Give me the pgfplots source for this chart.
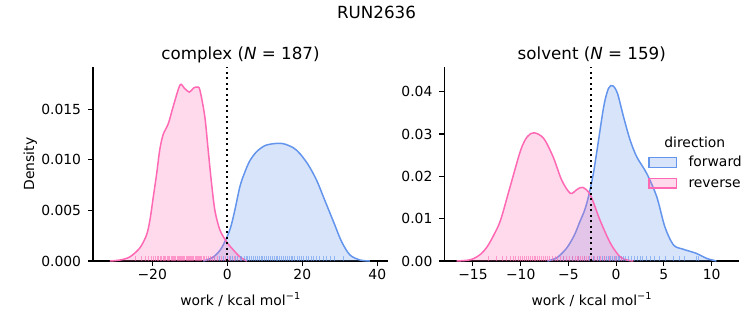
\documentclass[border=0pt]{standalone}
\usepackage{fontspec}
\setmainfont{DejaVu Sans}
\usepackage{pgfplots}
\usepackage{pgfplotstable}
\pgfplotsset{compat=1.18}
\definecolor{fwd}{RGB}{100,149,237}
\definecolor{rev}{RGB}{255,105,180}

\pgfplotstableread{
x y
-31.3 0
-28.6 0.0001
-26.0 0.0004
-23.3 0.0013
-21.5 0.0026
-20.6 0.0041
-19.7 0.0064
-18.8 0.0087
-18.0 0.0110
-17.1 0.0125
-15.7 0.0136
-14.4 0.0153
-12.6 0.0174
-11.5 0.0171
-10.1 0.0167
-9.0 0.0171
-8.0 0.0172
-7.3 0.0169
-6.0 0.0143
-5.1 0.0110
-4.2 0.0077
-3.3 0.0050
-2.0 0.0031
-0.2 0.0019
1.6 0.0011
3.4 0.0004
5.2 0
}\revLkde

\pgfplotstableread{
x y
-6.4 0
-3.7 0.0004
-1.5 0.0013
0.7 0.0031
2.0 0.0050
3.4 0.0074
4.7 0.0088
6.0 0.0099
7.8 0.0108
10.0 0.0114
12.4 0.0116
14.9 0.0116
17.6 0.0112
19.4 0.0106
21.6 0.0095
23.8 0.0080
26.0 0.0060
28.3 0.0039
30.5 0.0019
32.7 0.0006
35.4 0.0001
38.0 0
}\fwdLkde

\pgfplotstableread{
x y
-16.7 0
-15.5 0.0002
-14.9 0.0006
-14.2 0.0016
-13.5 0.0034
-12.8 0.0062
-12.1 0.0097
-11.1 0.0176
-10.0 0.0262
-9.3 0.0294
-8.6 0.0303
-7.6 0.0290
-6.6 0.0246
-5.7 0.0191
-4.8 0.0160
-4.1 0.0169
-3.5 0.0174
-2.7 0.0156
-1.7 0.0097
-0.6 0.0042
0.4 0.0010
1.2 0.0002
1.8 0
}\revRkde

\pgfplotstableread{
x y
-7.2 0
-6.2 0.0008
-5.2 0.0030
-4.4 0.0060
-3.8 0.0093
-3.3 0.0120
-2.9 0.0152
-2.4 0.0205
-2.0 0.0262
-1.3 0.0365
-0.8 0.0408
-0.35 0.0414
0.14 0.0396
0.77 0.0341
1.46 0.0286
2.16 0.0246
3.2 0.0207
4.25 0.0152
5.1 0.0081
6.0 0.0038
7.0 0.0028
8.4 0.0018
9.5 0.0006
10.5 0
}\fwdRkde

% rug tables: x position, h = rug tick height (relative)
\pgfplotstableread{
x h
-24.5 1
-23.0 1
-21.8 1
-21.0 1
-20.3 1
-19.8 1
-19.2 1
-18.7 1
-18.3 1
-17.9 1
-17.5 1
-17.1 1
-16.8 1
-16.4 1
-16.0 1
-15.7 1
-15.3 1
-15.0 1
-14.6 1
-14.3 1
-14.0 1
-13.7 1
-13.4 1
-13.1 1
-12.8 1
-12.5 1
-12.2 1
-11.9 1
-11.6 1
-11.3 1
-11.0 1
-10.7 1
-10.4 1
-10.1 1
-9.8 1
-9.5 1
-9.2 1
-8.9 1
-8.6 1
-8.3 1
-8.0 1
-7.7 1
-7.4 1
-7.1 1
-6.8 1
-6.4 1
-6.0 1
-5.6 1
-5.1 1
-4.6 1
-4.0 1
-3.3 1
-2.5 1
-1.6 1
-0.6 1
0.5 1
1.8 1
}\revLrug

\pgfplotstableread{
x h
-3.5 1
-2.2 1
-1.0 1
0.0 1
0.8 1
1.5 1
2.2 1
2.8 1
3.4 1
3.9 1
4.5 1
5.0 1
5.5 1
6.0 1
6.5 1
7.0 1
7.5 1
8.0 1
8.5 1
9.0 1
9.5 1
10.0 1
10.5 1
11.0 1
11.5 1
12.0 1
12.5 1
13.0 1
13.5 1
14.0 1
14.5 1
15.0 1
15.5 1
16.0 1
16.5 1
17.0 1
17.5 1
18.0 1
18.6 1
19.2 1
19.8 1
20.4 1
21.0 1
21.7 1
22.4 1
23.1 1
23.9 1
24.7 1
25.6 1
26.5 1
27.4 1
28.6 1
31.0 1
}\fwdLrug

\pgfplotstableread{
x h
-13.4 1
-12.5 1
-11.9 1
-11.5 1
-11.1 1
-10.8 1
-10.5 1
-10.2 1
-10.0 1
-9.8 1
-9.6 1
-9.4 1
-9.2 1
-9.0 1
-8.8 1
-8.6 1
-8.4 1
-8.2 1
-8.0 1
-7.8 1
-7.6 1
-7.4 1
-7.2 1
-7.0 1
-6.7 1
-6.4 1
-6.1 1
-5.8 1
-5.5 1
-5.2 1
-4.9 1
-4.6 1
-4.3 1
-4.1 1
-3.9 1
-3.7 1
-3.5 1
-3.3 1
-3.1 1
-2.9 1
-2.6 1
-2.3 1
-2.0 1
-1.6 1
-1.2 1
-0.7 1
-0.1 1
0.6 1
}\revRrug

\pgfplotstableread{
x h
-5.5 1
-4.6 1
-3.9 1
-3.3 1
-2.8 1
-2.4 1
-2.0 1
-1.7 1
-1.4 1
-1.2 1
-1.0 1
-0.8 1
-0.6 1
-0.4 1
-0.2 1
0.0 1
0.2 1
0.4 1
0.6 1
0.8 1
1.0 1
1.3 1
1.6 1
1.9 1
2.2 1
2.5 1
2.8 1
3.2 1
3.6 1
4.0 1
4.5 1
5.2 1
6.0 1
6.6 1
7.2 1
8.4 1
8.6 1
}\fwdRrug

\pgfplotsset{
  myax/.style={
    scale only axis, width=295pt, height=194pt,
    anchor=south west,
    axis x line*=bottom, axis y line*=left,
    axis line style={-, line width=1.1pt, black},
    tick align=outside, major tick length=4.9pt,
    tick style={line width=1.1pt, black},
    minor tick num=0,
    ymin=0,
    tick label style={font=\fontsize{13.9}{16}\selectfont},
    xticklabel style={anchor=base, yshift=-13.5pt},
    yticklabel style={anchor=east, inner sep=0pt, xshift=-6.8pt},
    label style={font=\fontsize{13.9}{16}\selectfont},
    xlabel style={at={(axis description cs:0.5,0)}, anchor=base, yshift=-44pt},
    title style={at={(axis description cs:0.5,1)}, anchor=base, yshift=1.7pt, font=\fontsize{16.7}{19}\selectfont},
    scaled y ticks=false,
  },
  kdefill/.style={draw=none, fill=#1, fill opacity=0.25, smooth, tension=0.5, forget plot},
  kdeline/.style={#1, line width=1.5pt, smooth, tension=0.5, forget plot},
  rugplot/.style={ycomb, color=#1, draw opacity=0.6, line width=1pt, mark=none, forget plot},
}

\begin{document}
\begin{tikzpicture}[x=1pt,y=1pt]
\path (0,0) rectangle (753,325);

\begin{axis}[myax, at={(93pt,64pt)},
  xmin=-35.8, xmax=42.85, ymax=0.01918,
  xtick={-20,0,20,40}, xticklabels={−20,0,20,40},
  ytick={0,0.005,0.010,0.015}, yticklabels={0.000,0.005,0.010,0.015},
  title={complex (\textit{N} = 187)},
  xlabel={work / kcal mol\textsuperscript{−1}},
  ylabel={Density},
  ylabel style={at={(axis description cs:-0.200,0.5)}, anchor=base, rotate=0},
]
\addplot[kdefill=fwd] table[x=x,y=y] {\fwdLkde} \closedcycle;
\addplot[kdeline=fwd] table[x=x,y=y] {\fwdLkde};
\addplot[kdefill=rev] table[x=x,y=y] {\revLkde} \closedcycle;
\addplot[kdeline=rev] table[x=x,y=y] {\revLkde};
\addplot[rugplot=fwd] table[x=x, y expr=\thisrow{h}*0.00048] {\fwdLrug};
\addplot[rugplot=rev] table[x=x, y expr=\thisrow{h}*0.00048] {\revLrug};
\addplot[black, line width=2.08pt, dash pattern=on 2.08pt off 3.43pt, forget plot] coordinates {(0,0) (0,0.01918)};
\end{axis}

\begin{axis}[myax, at={(444.3pt,64pt)},
  xmin=-18.0, xmax=12.9, ymax=0.04584,
  xtick={-15,-10,-5,0,5,10}, xticklabels={−15,−10,−5,0,5,10},
  ytick={0,0.01,0.02,0.03,0.04}, yticklabels={0.00,0.01,0.02,0.03,0.04},
  title={solvent (\textit{N} = 159)},
  xlabel={work / kcal mol\textsuperscript{−1}},
]
\addplot[kdefill=fwd] table[x=x,y=y] {\fwdRkde} \closedcycle;
\addplot[kdeline=fwd] table[x=x,y=y] {\fwdRkde};
\addplot[kdefill=rev] table[x=x,y=y] {\revRkde} \closedcycle;
\addplot[kdeline=rev] table[x=x,y=y] {\revRkde};
\addplot[rugplot=fwd] table[x=x, y expr=\thisrow{h}*0.00115] {\fwdRrug};
\addplot[rugplot=rev] table[x=x, y expr=\thisrow{h}*0.00115] {\revRrug};
\addplot[black, line width=2.08pt, dash pattern=on 2.08pt off 3.43pt, forget plot] coordinates {(-2.62,0) (-2.62,0.04584)};
\end{axis}

% legend
\fill[fwd, fill opacity=0.25] (649,157.3) rectangle (676.7,167.7);
\draw[fwd, line width=1.1pt] (649,157.3) rectangle (676.7,167.7);
\fill[rev, fill opacity=0.25] (649,137) rectangle (676.7,146.7);
\draw[rev, line width=1.1pt] (649,137) rectangle (676.7,146.7);
\node[anchor=base, inner sep=0pt, font=\fontsize{13.9}{16}\selectfont] at (694.8,177.7) {direction};
\node[anchor=base west, inner sep=0pt, font=\fontsize{13.9}{16}\selectfont] at (688.3,158.3) {forward};
\node[anchor=base west, inner sep=0pt, font=\fontsize{13.9}{16}\selectfont] at (688.3,137.3) {reverse};

\node[anchor=base, inner sep=0pt, font=\fontsize{16.7}{19}\selectfont] at (376.5,306.5) {RUN2636};
\end{tikzpicture}
\end{document}
